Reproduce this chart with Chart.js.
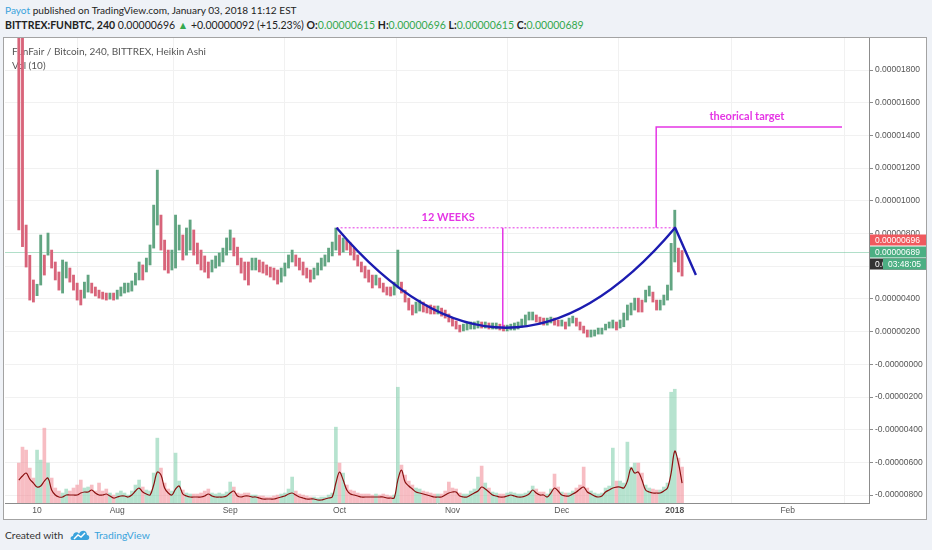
<!DOCTYPE html>
<html>
<head>
<meta charset="utf-8">
<title>FUNBTC 240 Heikin Ashi</title>
<script src="https://cdn.jsdelivr.net/npm/chart.js@4.4.1/dist/chart.umd.min.js"></script>
<style>
  html, body { margin: 0; padding: 0; }
  body { width: 932px; height: 550px; background: #eff2f7; font-family: Lato, "Open Sans", sans-serif; position: relative; overflow: hidden; }
  .line { position: absolute; left: 5px; white-space: nowrap; color: #222; font-size: 10.5px; line-height: 14px; }
  #l1 { top: 3px; font-size: 10.1px; }
  #l2 { top: 18px; }
  .user { color: #3aa3dc; }
  .g { color: #35a84e; }
  b { font-weight: 700; }
  #panel { position: absolute; left: 3px; top: 37px; width: 922px; height: 481px; background: #fff; border: 1px solid #a3a3a3; }
  #panel canvas { display: block; }
  #foot { position: absolute; left: 5px; top: 528px; font-size: 10.3px; color: #333; display: flex; align-items: center; white-space: nowrap; }
  #foot svg { margin-left: 7px; }
  #foot .tv { color: #3aa3dc; margin-left: 4px; }
</style>
</head>
<body>
<div class="line" id="l1"><span class="user">Payot</span> published on TradingView.com, January 03, 2018 11:12 EST</div>
<div class="line" id="l2"><b>BITTREX:FUNBTC, 240</b> 0.00000696 <span class="g">&#9650;</span> +0.00000092 (+15.23%) <b>O:</b><span class="g">0.00000615</span> <b>H:</b><span class="g">0.00000696</span> <b>L:</b><span class="g">0.00000615</span> <b>C:</b><span class="g">0.00000689</span></div>
<div id="panel"><canvas id="myChart" width="922" height="481"></canvas></div>
<div id="foot">Created with
  <svg width="20" height="14" viewBox="0 0 20 14"><path d="M2 12 C0 12 0 8 3 8 C3 4 8 3 9 6 C11 1 17 2 17 7 C20 7 20 12 17 12 Z" fill="#3aa3dc"/><path d="M4 11 L8 7 L11 9 L15 5" stroke="#fff" stroke-width="1.4" fill="none"/></svg>
  <span class="tv">TradingView</span></div>

<script>
// x values are days counted from Jul 1 2017, prices in satoshi (1e-8 BTC)
const firstDay = 4;

// daily low / high of the 4h Heikin Ashi candles, Jul 5 2017 .. Jan 3 2018
const priceLow = [
  822, 720, 595, 393, 381, 420, 485, 546, 668, 589,
  516, 454, 436, 528, 503, 454, 393, 363, 405, 442,
  436, 418, 405, 399, 393, 399, 393, 399, 418, 436,
  442, 448, 485, 516, 516, 565, 608, 711, 852, 699,
  577, 558, 577, 589, 699, 638, 668, 699, 668, 614,
  577, 564, 528, 565, 589, 601, 626, 668, 699, 663,
  608, 558, 516, 485, 577, 577, 565, 558, 546, 534,
  516, 491, 503, 540, 589, 626, 601, 577, 546, 528,
  503, 522, 546, 577, 601, 626, 663, 699, 668, 687,
  699, 668, 638, 601, 565, 528, 503, 467, 485, 467,
  442, 424, 418, 424, 467, 436, 381, 332, 302, 314,
  326, 320, 314, 308, 308, 308, 295, 283, 259, 234,
  216, 198, 204, 210, 216, 216, 222, 222, 222, 216,
  216, 216, 210, 204, 204, 210, 210, 216, 228, 240,
  271, 271, 259, 247, 240, 240, 253, 240, 234, 234,
  216, 234, 253, 234, 210, 191, 167, 167, 173, 185,
  185, 210, 222, 222, 210, 222, 230, 271, 302, 332,
  320, 320, 381, 418, 381, 332, 332, 363, 393, 454,
  626, 565, 540
];
const priceHigh = [
  2500, 2150, 852, 667, 516, 490, 791, 668, 803, 699,
  626, 565, 638, 626, 589, 546, 497, 454, 503, 546,
  497, 473, 454, 442, 436, 436, 436, 454, 473, 497,
  497, 510, 558, 626, 608, 650, 730, 974, 1188, 913,
  760, 699, 699, 913, 852, 791, 834, 883, 822, 742,
  699, 663, 626, 638, 663, 681, 711, 773, 822, 773,
  717, 650, 626, 626, 650, 650, 638, 626, 608, 595,
  589, 577, 589, 620, 669, 699, 669, 650, 626, 589,
  577, 589, 620, 650, 669, 711, 748, 834, 791, 773,
  760, 742, 711, 669, 626, 601, 577, 546, 546, 528,
  497, 473, 473, 503, 699, 503, 454, 405, 363, 381,
  393, 381, 363, 363, 357, 357, 344, 332, 308, 283,
  265, 240, 246, 253, 259, 259, 265, 259, 259, 253,
  253, 253, 246, 240, 240, 246, 253, 259, 277, 302,
  320, 320, 302, 289, 283, 283, 289, 283, 271, 271,
  259, 283, 295, 283, 259, 234, 210, 210, 210, 222,
  222, 246, 259, 271, 259, 271, 314, 363, 375, 405,
  405, 393, 454, 479, 442, 393, 393, 424, 485, 740,
  943, 711, 696
];

// volume (daily peak of the 4h bars) and its 10 period average, relative units
const volume = [
  40, 56, 53, 35, 25, 53, 43, 75, 40, 25,
  15, 12, 10, 14, 12, 15, 18, 23, 15, 16,
  18, 12, 20, 12, 14, 10, 8, 10, 12, 10,
  8, 12, 18, 23, 16, 13, 12, 30, 65, 35,
  20, 14, 12, 50, 22, 13, 10, 9, 9, 9,
  10, 12, 14, 10, 9, 10, 9, 11, 21, 16,
  10, 9, 10, 10, 8, 8, 7, 7, 6, 6,
  7, 8, 9, 10, 14, 26, 12, 9, 8, 7,
  6, 6, 5, 6, 6, 8, 10, 76, 40, 30,
  18, 13, 12, 10, 9, 9, 9, 8, 9, 8,
  9, 8, 7, 8, 116, 38, 28, 22, 18, 15,
  14, 12, 11, 10, 9, 9, 9, 12, 21, 15,
  14, 10, 9, 9, 12, 14, 26, 37, 20, 15,
  11, 10, 9, 9, 10, 11, 10, 9, 9, 10,
  12, 17, 14, 11, 11, 9, 14, 29, 16, 11,
  10, 10, 12, 15, 18, 36, 15, 12, 10, 9,
  10, 15, 17, 55, 22, 22, 20, 61, 36, 40,
  40, 30, 18, 15, 14, 13, 13, 16, 20, 111,
  114, 45, 36
];
const volumeMA = [
  23, 27, 30, 24, 20, 16, 17, 22, 25, 13,
  8, 6, 6, 8, 8, 8, 8, 10, 11, 11,
  13, 10, 8, 8, 9, 7, 5, 6, 7, 7,
  6, 8, 12, 15, 11, 9, 8, 18, 31, 28,
  15, 10, 8, 14, 17, 9, 7, 6, 6, 6,
  6, 7, 9, 7, 6, 6, 6, 7, 10, 12,
  7, 6, 7, 7, 6, 6, 5, 4, 4, 4,
  4, 5, 6, 7, 9, 10, 8, 6, 5, 4,
  4, 4, 3, 3, 4, 5, 6, 20, 31, 23,
  13, 9, 8, 7, 6, 6, 6, 6, 6, 6,
  6, 5, 5, 5, 23, 33, 21, 17, 14, 11,
  10, 9, 8, 7, 6, 6, 6, 8, 10, 11,
  11, 7, 6, 6, 8, 10, 12, 16, 14, 11,
  8, 7, 6, 6, 7, 8, 7, 6, 6, 7,
  9, 13, 10, 8, 8, 6, 10, 15, 12, 8,
  7, 7, 9, 11, 14, 16, 11, 9, 7, 6,
  7, 11, 13, 15, 16, 16, 15, 22, 35, 30,
  31, 23, 13, 11, 10, 10, 10, 12, 15, 30,
  52, 40, 20
];

const monthDays = [9, 31, 62, 92, 123, 153, 184, 215];
const monthLabels = ["10", "Aug", "Sep", "Oct", "Nov", "Dec", "2018", "Feb"];
const priceTicks = [-800, -600, -400, -200, 0, 200, 400, 600, 800, 1000, 1200, 1400, 1600, 1800];

const lastPrice = 696;
const lastClose = 689;
const countdown = "03:48:05";

// hand drawn marks, [day, satoshi]
const cupLeft = [91.2, 835];
const cupBottom = [137.7, 224];
const cupRight = [184.1, 835];
const handleEnd = [189.8, 546];
const weeksLine = [136.8, 224];
const targetRise = [178.9, 1451];
const targetEnd = [229.9, 1451];
const weeksLabel = [121.8, 898];
const targetLabel = [203.8, 1519];

const red = "#d8647a";
const green = "#62a582";
const magenta = "#e536e5";
const axisFont = "Liberation Sans";

function mid(i) {
  return (priceLow[i] + priceHigh[i]) / 2;
}
function isUp(i) {
  return i > 0 && mid(i) >= mid(i - 1);
}

let candles = priceLow.map((lo, i) => ({ x: firstDay + i, y: [lo, priceHigh[i]] }));
let vols = volume.map((v, i) => ({ x: firstDay + i, y: v }));
let volAvg = volumeMA.map((v, i) => ({ x: firstDay + i, y: v }));

function toPx(chart, p) {
  return [chart.scales.x.getPixelForValue(p[0]), chart.scales.y.getPixelForValue(p[1])];
}

const drawings = {
  id: "drawings",
  beforeDatasetsDraw(chart) {
    const ctx = chart.ctx;
    const a = chart.chartArea;
    ctx.save();
    // last price line
    let py = Math.round(chart.scales.y.getPixelForValue(lastClose)) + 0.5;
    ctx.strokeStyle = "rgba(83,185,135,0.45)";
    ctx.lineWidth = 1;
    ctx.beginPath();
    ctx.moveTo(a.left, py);
    ctx.lineTo(a.right, py);
    ctx.stroke();
    // legend texts
    ctx.fillStyle = "#555";
    ctx.font = "10px Lato";
    ctx.textBaseline = "middle";
    ctx.fillText("FunFair / Bitcoin, 240, BITTREX, Heikin Ashi", a.left + 7, 14);
    ctx.fillText("Vol (10)", a.left + 7, 28);
    ctx.restore();
  },
  afterDatasetsDraw(chart) {
    const ctx = chart.ctx;
    ctx.save();
    let [x0, y0] = toPx(chart, cupLeft);
    let [xb, yb] = toPx(chart, cupBottom);
    let [x2, y2] = toPx(chart, cupRight);
    let [xh, yh] = toPx(chart, handleEnd);
    let [xw, yw] = toPx(chart, weeksLine);
    let [xt, yt] = toPx(chart, targetRise);
    let [xe] = toPx(chart, targetEnd);

    // dotted rim line
    ctx.strokeStyle = magenta;
    ctx.lineWidth = 1;
    ctx.setLineDash([2, 2]);
    ctx.beginPath();
    ctx.moveTo(x0, y0);
    ctx.lineTo(x2, y2);
    ctx.stroke();
    ctx.setLineDash([]);

    // 12 weeks depth and target lines
    ctx.lineWidth = 1.5;
    ctx.beginPath();
    ctx.moveTo(xw, y0);
    ctx.lineTo(xw, yw);
    ctx.moveTo(xt, y2);
    ctx.lineTo(xt, yt);
    ctx.lineTo(xe, yt);
    ctx.stroke();

    // cup and handle
    ctx.strokeStyle = "#1c1cb0";
    ctx.lineWidth = 2.4;
    ctx.lineJoin = "round";
    ctx.beginPath();
    ctx.moveTo(x0, y0);
    ctx.quadraticCurveTo(xb, 2 * yb - (y0 + y2) / 2, x2, y2);
    ctx.lineTo(xh, yh);
    ctx.stroke();

    ctx.fillStyle = magenta;
    ctx.font = "bold 11px Lato";
    ctx.textAlign = "center";
    ctx.textBaseline = "middle";
    let [lx, ly] = toPx(chart, weeksLabel);
    ctx.fillText("12 WEEKS", lx, ly);
    [lx, ly] = toPx(chart, targetLabel);
    ctx.fillText("theorical target", lx, ly);
    ctx.restore();
  },
  afterDraw(chart) {
    const ctx = chart.ctx;
    const left = chart.chartArea.right + 1;
    const w = chart.width - left;
    const cy = Math.round(chart.scales.y.getPixelForValue(lastClose));
    const fmt = (v) => (v / 1e8).toFixed(8);
    ctx.save();
    ctx.font = "8.5px " + axisFont;
    ctx.textBaseline = "middle";
    function tag(y, bg, text, x) {
      ctx.fillStyle = bg;
      ctx.fillRect(x, y - 5.5, left + w - x, 11);
      ctx.fillStyle = "#fff";
      ctx.fillText(text, x + 5, y + 0.5);
    }
    tag(cy - 12, "#f0595e", fmt(lastPrice), left);
    tag(cy, "#4caf83", fmt(lastClose), left);
    tag(cy + 12, "#333", fmt(lastClose), left);
    tag(cy + 12, "#4caf83", countdown, left + 13);
    ctx.restore();
  },
};

var ctx = document.getElementById("myChart").getContext("2d");
var myChart = new Chart(ctx, {
  type: "bar",
  data: {
    datasets: [
      {
        label: "FUNBTC",
        data: candles,
        yAxisID: "y",
        grouped: false,
        barThickness: 2.2,
        borderWidth: 0,
        backgroundColor: (c) => (isUp(c.dataIndex) ? green : red),
        order: 0,
      },
      {
        type: "line",
        label: "Vol MA",
        data: volAvg,
        yAxisID: "yVol",
        borderColor: "#8b1010",
        borderWidth: 1.2,
        pointRadius: 0,
        tension: 0.35,
        order: 1,
      },
      {
        label: "Vol",
        data: vols,
        yAxisID: "yVol",
        grouped: false,
        barThickness: 3,
        borderWidth: 0,
        backgroundColor: (c) => (isUp(c.dataIndex) ? "rgba(110,200,160,0.5)" : "rgba(240,135,145,0.55)"),
        order: 2,
      },
    ],
  },
  options: {
    responsive: false,
    animation: false,
    layout: { padding: { left: 1, top: 0, right: 0, bottom: 0 } },
    plugins: { legend: { display: false }, tooltip: { enabled: false } },
    scales: {
      x: {
        type: "linear",
        min: 0.2,
        max: 237.3,
        offset: false,
        grid: { color: "#f1f1f1", drawTicks: false },
        border: { color: "#8c8c8c" },
        afterBuildTicks: (s) => {
          s.ticks = monthDays.map((v) => ({ value: v }));
        },
        afterFit: (s) => {
          s.height = 16;
        },
        ticks: {
          autoSkip: false,
          maxRotation: 0,
          padding: 3,
          color: "#555",
          font: (c) => ({ family: axisFont, size: 8.5, weight: c.tick && c.tick.value === 184 ? "bold" : "normal" }),
          callback: (v, i) => monthLabels[i],
        },
      },
      y: {
        position: "right",
        min: -848,
        max: 1996,
        grid: { color: "#f1f1f1", tickColor: "#8c8c8c", tickLength: 4 },
        border: { color: "#8c8c8c" },
        afterBuildTicks: (s) => {
          s.ticks = priceTicks.map((v) => ({ value: v }));
        },
        afterFit: (s) => {
          s.width = 57;
          s.paddingTop = 0;
          s.paddingBottom = 0;
        },
        ticks: {
          padding: 2,
          color: "#555",
          font: { family: axisFont, size: 8.5 },
          callback: (v) => (v <= 0 ? "-" : "") + (Math.abs(v) / 1e8).toFixed(8),
        },
      },
      yVol: {
        display: false,
        min: 0,
        max: 466,
      },
    },
  },
  plugins: [drawings],
});
</script>
</body>
</html>
